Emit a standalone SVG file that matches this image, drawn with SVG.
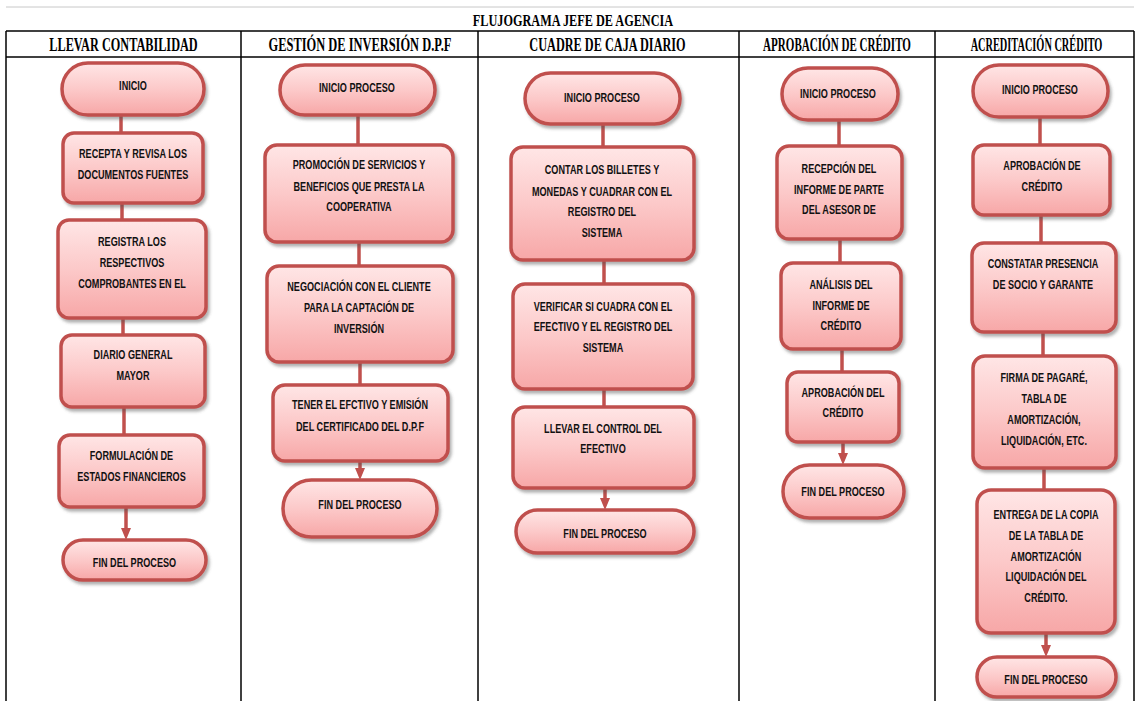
<svg xmlns="http://www.w3.org/2000/svg" width="1137" height="701" viewBox="0 0 1137 701">
  <style>
    .grid { stroke: #000; stroke-width: 1.5; fill: none; }
    .faint { stroke: #c8c8c8; stroke-width: 1; fill: none; }
    .hdr { font-family: "Liberation Serif", "Times New Roman", serif; font-weight: bold; font-size: 18.5px; fill: #000; text-anchor: middle; }
    .title { font-family: "Liberation Serif", "Times New Roman", serif; font-weight: bold; font-size: 17.5px; fill: #000; text-anchor: middle; }
    .box { fill: url(#pinkFill); stroke: #c0504d; stroke-width: 3.5; filter: url(#shadow); }
    .lbl { font-family: "Liberation Sans", Arial, sans-serif; font-weight: bold; font-size: 13px; fill: #111; text-anchor: middle; }
    .link { stroke: #c0504d; stroke-width: 3.5; fill: none; }
    .arrow { marker-end: url(#head); }
  </style>
  <defs>
    <linearGradient id="pinkFill" x1="0" y1="0" x2="0" y2="1">
      <stop offset="0" stop-color="#ffe6e6"/>
      <stop offset="0.5" stop-color="#fcc9c9"/>
      <stop offset="1" stop-color="#f7a7a7"/>
    </linearGradient>
    <filter id="shadow" x="-10%" y="-10%" width="125%" height="130%">
      <feDropShadow dx="2" dy="3" stdDeviation="1.6" flood-color="#555" flood-opacity="0.45"/>
    </filter>
    <marker id="head" markerUnits="userSpaceOnUse" markerWidth="12" markerHeight="12" refX="2" refY="5" orient="auto" viewBox="0 0 12 10">
      <path d="M0,0 L12,5 L0,10 z" fill="#c0504d"/>
    </marker>
  </defs>

  <rect width="1137" height="701" fill="#fff"/>

  <!-- table frame -->
  <g id="table">
    <line class="faint" x1="6" y1="7" x2="1134" y2="7"/>
    <line class="grid" x1="6" y1="31" x2="1134" y2="31"/>
    <line class="grid" x1="6" y1="57" x2="1134" y2="57"/>
    <line class="grid" x1="6" y1="31" x2="6" y2="701"/>
    <line class="grid" x1="241" y1="31" x2="241" y2="701"/>
    <line class="grid" x1="478" y1="31" x2="478" y2="701"/>
    <line class="grid" x1="739" y1="31" x2="739" y2="701"/>
    <line class="grid" x1="935" y1="31" x2="935" y2="701"/>
    <line class="grid" x1="1134" y1="31" x2="1134" y2="701"/>
    <text class="title" transform="translate(573 26) scale(0.70 1)" x="0" y="0">FLUJOGRAMA JEFE DE AGENCIA</text>
    <text class="hdr" transform="translate(123.5 51) scale(0.663 1)" x="0" y="0">LLEVAR CONTABILIDAD</text>
    <text class="hdr" transform="translate(360 51) scale(0.672 1)" x="0" y="0">GESTIÓN DE INVERSIÓN D.P.F</text>
    <text class="hdr" transform="translate(607.5 51) scale(0.663 1)" x="0" y="0">CUADRE DE CAJA DIARIO</text>
    <text class="hdr" transform="translate(837 51) scale(0.598 1)" x="0" y="0">APROBACIÓN DE CRÉDITO</text>
    <text class="hdr" transform="translate(1036.5 51) scale(0.558 1)" x="0" y="0">ACREDITACIÓN CRÉDITO</text>
  </g>

  <!-- connectors -->
  <g id="connectors">
    <line class="link" x1="121" y1="115" x2="121" y2="133"/>
    <line class="link" x1="122" y1="203" x2="122" y2="220"/>
    <line class="link" x1="123" y1="318" x2="123" y2="335"/>
    <line class="link" x1="124" y1="407" x2="124" y2="435"/>
    <line class="link arrow" x1="126" y1="507" x2="126" y2="530"/>

    <line class="link" x1="358" y1="115" x2="358" y2="145"/>
    <line class="link" x1="359" y1="242" x2="359" y2="266"/>
    <line class="link" x1="360" y1="362" x2="360" y2="385"/>
    <line class="link arrow" x1="360" y1="461" x2="360" y2="470"/>

    <line class="link" x1="603" y1="124" x2="603" y2="147"/>
    <line class="link" x1="604" y1="260" x2="604" y2="284"/>
    <line class="link" x1="604" y1="389" x2="604" y2="407"/>
    <line class="link arrow" x1="605" y1="488" x2="605" y2="500"/>

    <line class="link" x1="839" y1="120" x2="839" y2="146"/>
    <line class="link" x1="840" y1="239" x2="840" y2="263"/>
    <line class="link" x1="842" y1="349" x2="842" y2="372"/>
    <line class="link arrow" x1="843" y1="442" x2="843" y2="455"/>

    <line class="link" x1="1040" y1="117" x2="1040" y2="145"/>
    <line class="link" x1="1041" y1="215" x2="1041" y2="243"/>
    <line class="link" x1="1043" y1="332" x2="1043" y2="356"/>
    <line class="link" x1="1044" y1="468" x2="1044" y2="490"/>
    <line class="link arrow" x1="1046" y1="633" x2="1046" y2="647"/>
  </g>

  <!-- LLEVAR CONTABILIDAD -->
  <g id="c1-inicio">
    <rect class="box" x="62" y="63" width="142" height="52" rx="26"/>
    <text class="lbl" transform="translate(133 0) scale(0.7 1)" x="0" y="90.5">INICIO</text>
  </g>
  <g id="c1-recepta">
    <rect class="box" x="63" y="133" width="140" height="70" rx="11"/>
    <text class="lbl" transform="translate(133 0) scale(0.7 1)"><tspan x="0" y="158">RECEPTA Y REVISA LOS</tspan><tspan x="0" y="179">DOCUMENTOS FUENTES</tspan></text>
  </g>
  <g id="c1-registra">
    <rect class="box" x="58" y="220" width="148" height="98" rx="11"/>
    <text class="lbl" transform="translate(132 0) scale(0.7 1)"><tspan x="0" y="246.5">REGISTRA LOS</tspan><tspan x="0" y="267.5">RESPECTIVOS</tspan><tspan x="0" y="288.5">COMPROBANTES EN EL</tspan></text>
  </g>
  <g id="c1-diario">
    <rect class="box" x="61" y="335" width="144" height="72" rx="11"/>
    <text class="lbl" transform="translate(133 0) scale(0.7 1)"><tspan x="0" y="359.5">DIARIO GENERAL</tspan><tspan x="0" y="380.5">MAYOR</tspan></text>
  </g>
  <g id="c1-formulacion">
    <rect class="box" x="59" y="435" width="145" height="72" rx="11"/>
    <text class="lbl" transform="translate(131.5 0) scale(0.7 1)"><tspan x="0" y="460.5">FORMULACIÓN DE</tspan><tspan x="0" y="481.5">ESTADOS FINANCIEROS</tspan></text>
  </g>
  <g id="c1-fin">
    <rect class="box" x="63" y="540" width="143" height="40" rx="20"/>
    <text class="lbl" transform="translate(134.5 0) scale(0.7 1)" x="0" y="567.5">FIN DEL PROCESO</text>
  </g>

  <!-- GESTIÓN DE INVERSIÓN D.P.F -->
  <g id="c2-inicio">
    <rect class="box" x="280" y="65" width="155" height="50" rx="25"/>
    <text class="lbl" transform="translate(357 0) scale(0.7 1)" x="0" y="92.5">INICIO PROCESO</text>
  </g>
  <g id="c2-promocion">
    <rect class="box" x="265" y="145" width="188" height="97" rx="12"/>
    <text class="lbl" transform="translate(359 0) scale(0.7 1)"><tspan x="0" y="169.5">PROMOCIÓN DE SERVICIOS Y</tspan><tspan x="0" y="191.5">BENEFICIOS QUE PRESTA LA</tspan><tspan x="0" y="211.5">COOPERATIVA</tspan></text>
  </g>
  <g id="c2-negociacion">
    <rect class="box" x="267" y="266" width="186" height="96" rx="12"/>
    <text class="lbl" transform="translate(359 0) scale(0.7 1)"><tspan x="0" y="291.5">NEGOCIACIÓN CON EL CLIENTE</tspan><tspan x="0" y="312.5">PARA LA CAPTACIÓN DE</tspan><tspan x="0" y="333.5">INVERSIÓN</tspan></text>
  </g>
  <g id="c2-tener">
    <rect class="box" x="273" y="385" width="175" height="76" rx="12"/>
    <text class="lbl" transform="translate(360 0) scale(0.7 1)"><tspan x="0" y="409.5">TENER EL EFCTIVO Y EMISIÓN</tspan><tspan x="0" y="431.5">DEL CERTIFICADO  DEL D.P.F</tspan></text>
  </g>
  <g id="c2-fin">
    <rect class="box" x="283" y="480" width="154" height="57" rx="28.5"/>
    <text class="lbl" transform="translate(360 0) scale(0.7 1)" x="0" y="509.5">FIN DEL PROCESO</text>
  </g>

  <!-- CUADRE DE CAJA DIARIO -->
  <g id="c3-inicio">
    <rect class="box" x="525" y="73" width="155" height="51" rx="25.5"/>
    <text class="lbl" transform="translate(602 0) scale(0.7 1)" x="0" y="102.5">INICIO PROCESO</text>
  </g>
  <g id="c3-contar">
    <rect class="box" x="511" y="147" width="183" height="113" rx="12"/>
    <text class="lbl" transform="translate(602 0) scale(0.7 1)"><tspan x="0" y="174.5">CONTAR LOS BILLETES Y</tspan><tspan x="0" y="196.5">MONEDAS Y CUADRAR CON EL</tspan><tspan x="0" y="216.5">REGISTRO DEL</tspan><tspan x="0" y="237.5">SISTEMA</tspan></text>
  </g>
  <g id="c3-verificar">
    <rect class="box" x="513" y="284" width="180" height="105" rx="12"/>
    <text class="lbl" transform="translate(603 0) scale(0.7 1)"><tspan x="0" y="311.5">VERIFICAR SI CUADRA CON EL</tspan><tspan x="0" y="331.5">EFECTIVO Y EL REGISTRO DEL</tspan><tspan x="0" y="352.5">SISTEMA</tspan></text>
  </g>
  <g id="c3-llevar">
    <rect class="box" x="513" y="407" width="181" height="81" rx="12"/>
    <text class="lbl" transform="translate(603 0) scale(0.7 1)"><tspan x="0" y="433.5">LLEVAR EL CONTROL DEL</tspan><tspan x="0" y="453.5">EFECTIVO</tspan></text>
  </g>
  <g id="c3-fin">
    <rect class="box" x="516" y="510" width="178" height="43" rx="21.5"/>
    <text class="lbl" transform="translate(605 0) scale(0.7 1)" x="0" y="538.5">FIN DEL PROCESO</text>
  </g>

  <!-- APROBACIÓN DE CRÉDITO -->
  <g id="c4-inicio">
    <rect class="box" x="782" y="68" width="116" height="52" rx="26"/>
    <text class="lbl" transform="translate(838 0) scale(0.7 1)" x="0" y="98">INICIO PROCESO</text>
  </g>
  <g id="c4-recepcion">
    <rect class="box" x="777" y="146" width="125" height="93" rx="12"/>
    <text class="lbl" transform="translate(839 0) scale(0.7 1)"><tspan x="0" y="173.5">RECEPCIÓN DEL</tspan><tspan x="0" y="194.5">INFORME DE PARTE</tspan><tspan x="0" y="214.5">DEL ASESOR DE</tspan></text>
  </g>
  <g id="c4-analisis">
    <rect class="box" x="781" y="263" width="120" height="86" rx="12"/>
    <text class="lbl" transform="translate(841 0) scale(0.7 1)"><tspan x="0" y="289.5">ANÁLISIS DEL</tspan><tspan x="0" y="310.5">INFORME DE</tspan><tspan x="0" y="330.5">CRÉDITO</tspan></text>
  </g>
  <g id="c4-aprobacion">
    <rect class="box" x="787" y="372" width="112" height="70" rx="11"/>
    <text class="lbl" transform="translate(843 0) scale(0.7 1)"><tspan x="0" y="397.5">APROBACIÓN DEL</tspan><tspan x="0" y="417.5">CRÉDITO</tspan></text>
  </g>
  <g id="c4-fin">
    <rect class="box" x="783" y="465" width="121" height="53" rx="26.5"/>
    <text class="lbl" transform="translate(843 0) scale(0.7 1)" x="0" y="496.5">FIN DEL PROCESO</text>
  </g>

  <!-- ACREDITACIÓN CRÉDITO -->
  <g id="c5-inicio">
    <rect class="box" x="973" y="65" width="135" height="52" rx="26"/>
    <text class="lbl" transform="translate(1040 0) scale(0.7 1)" x="0" y="94.5">INICIO PROCESO</text>
  </g>
  <g id="c5-aprobacion">
    <rect class="box" x="973" y="145" width="137" height="70" rx="11"/>
    <text class="lbl" transform="translate(1042 0) scale(0.7 1)"><tspan x="0" y="170.5">APROBACIÓN DE</tspan><tspan x="0" y="191.5">CRÉDITO</tspan></text>
  </g>
  <g id="c5-constatar">
    <rect class="box" x="972" y="243" width="144" height="89" rx="12"/>
    <text class="lbl" transform="translate(1043 0) scale(0.7 1)"><tspan x="0" y="268.5">CONSTATAR PRESENCIA</tspan><tspan x="0" y="289.5">DE SOCIO Y GARANTE</tspan></text>
  </g>
  <g id="c5-firma">
    <rect class="box" x="973" y="356" width="143" height="112" rx="12"/>
    <text class="lbl" transform="translate(1044 0) scale(0.7 1)"><tspan x="0" y="382.5">FIRMA DE PAGARÉ,</tspan><tspan x="0" y="403.5">TABLA DE</tspan><tspan x="0" y="424.5">AMORTIZACIÓN,</tspan><tspan x="0" y="445.5">LIQUIDACIÓN, ETC.</tspan></text>
  </g>
  <g id="c5-entrega">
    <rect class="box" x="977" y="490" width="138" height="143" rx="14"/>
    <text class="lbl" transform="translate(1046 0) scale(0.7 1)"><tspan x="0" y="519.5">ENTREGA DE LA COPIA</tspan><tspan x="0" y="540.5">DE LA TABLA DE</tspan><tspan x="0" y="561.5">AMORTIZACIÓN</tspan><tspan x="0" y="581.5">LIQUIDACIÓN DEL</tspan><tspan x="0" y="602.5">CRÉDITO.</tspan></text>
  </g>
  <g id="c5-fin">
    <rect class="box" x="977" y="657" width="139" height="40" rx="20"/>
    <text class="lbl" transform="translate(1046 0) scale(0.7 1)" x="0" y="684.5">FIN DEL PROCESO</text>
  </g>
</svg>
